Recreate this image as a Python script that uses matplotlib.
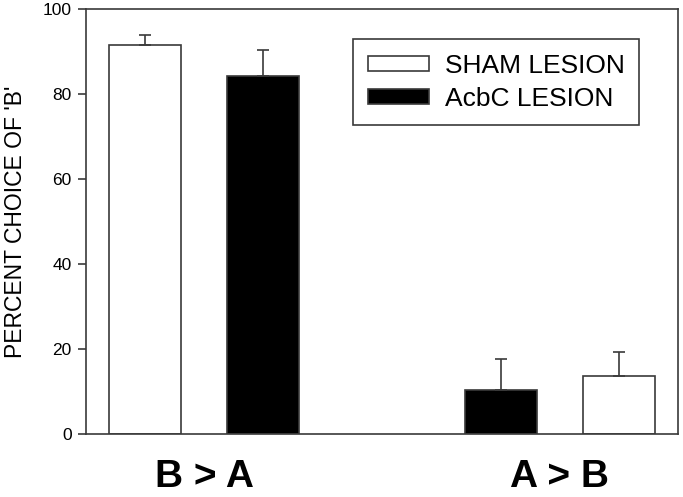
import matplotlib
matplotlib.use('Agg')
import matplotlib.pyplot as plt
import numpy as np

plt.rcParams['font.family'] = ['Liberation Sans', 'DejaVu Sans']

# data
groups = ['B > A', 'A > B']
sham_mean = [91.6, 13.7]
sham_err = [2.3, 5.6]
acbc_mean = [84.3, 10.5]
acbc_err = [6.2, 7.2]

line_col = '#3a3a3a'

fig = plt.figure(figsize=(6.83, 4.97), dpi=100)
ax = fig.add_axes([0.1252, 0.1262, 0.8675, 0.8547])

x = np.arange(len(groups))
off = 0.166
w = 0.201

# sham bar is on the left in the first group, on the right in the second
sham_x = [x[0] - off, x[1] + off]
acbc_x = [x[0] + off, x[1] - off]

ax.bar(sham_x, sham_mean, w, color='white', edgecolor=line_col, linewidth=1.2,
       yerr=[[0, 0], sham_err], ecolor=line_col, capsize=4.3,
       error_kw={'elinewidth': 1.2, 'capthick': 1.2}, label='SHAM LESION', zorder=2)
ax.bar(acbc_x, acbc_mean, w, color='black', edgecolor=line_col, linewidth=1.2,
       yerr=[[0, 0], acbc_err], ecolor=line_col, capsize=4.3,
       error_kw={'elinewidth': 1.2, 'capthick': 1.2}, label='AcbC LESION', zorder=2)

ax.set_xlim(-0.333, 1.332)
ax.set_ylim(0, 100)
ax.set_yticks([0, 20, 40, 60, 80, 100])
ax.tick_params(axis='y', direction='out', length=6, width=1.2, color=line_col,
               labelsize=12.5, pad=4)
ax.set_xticks(x)
ax.set_xticklabels(groups, fontsize=28, fontweight='bold')
ax.tick_params(axis='x', length=0, pad=18)

for s in ax.spines.values():
    s.set_color(line_col)
    s.set_linewidth(1.2)

ax.set_ylabel("PERCENT CHOICE OF 'B'", fontsize=16.5, labelpad=11)

leg = ax.legend(loc='upper right', bbox_to_anchor=(0.934, 0.930), fontsize=19,
                fancybox=False, framealpha=1, edgecolor=line_col,
                handlelength=2.3, handleheight=0.47, labelspacing=0.35,
                handletextpad=0.6, borderpad=0.55, borderaxespad=0)
leg.get_frame().set_linewidth(1.2)

fig.savefig('out.png', dpi=100)
